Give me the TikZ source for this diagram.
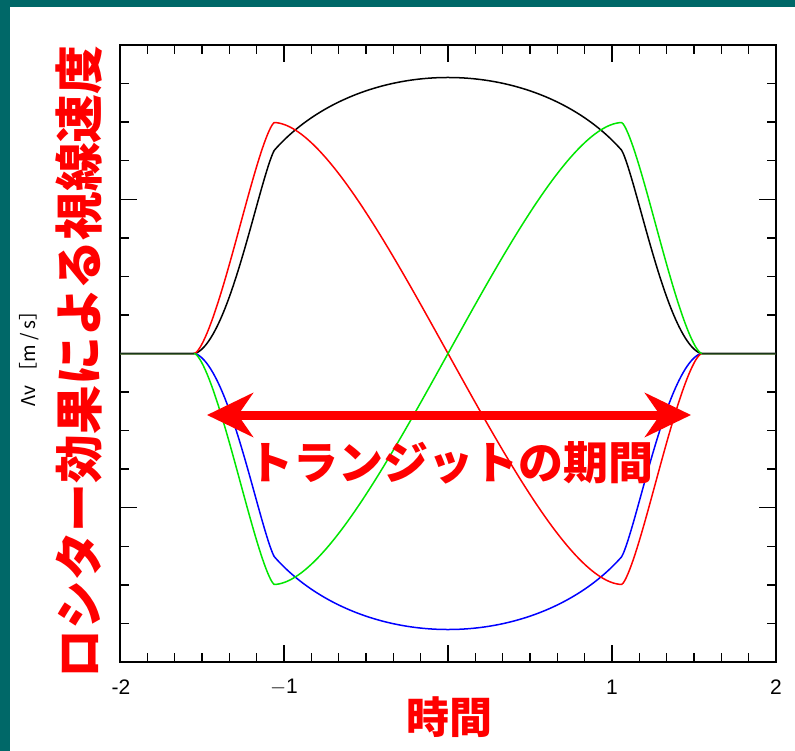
\documentclass[tikz,border=0pt]{standalone}
\usepackage{fontspec}
\usetikzlibrary{arrows.meta}
\newfontfamily\cjk{Noto Sans CJK JP}
\newfontfamily\tickf{Liberation Sans}
\definecolor{tealbg}{RGB}{0,104,104}
\definecolor{cred}{RGB}{255,0,0}
\definecolor{cgreen}{RGB}{0,230,0}
\definecolor{cblue}{RGB}{0,0,255}
\definecolor{cflat}{RGB}{25,55,25}
\begin{document}
\begin{tikzpicture}[x=1pt,y=-1pt,
  declare function={
    ldI(\x)=1-0.632*(1-sqrt(max(0,1-(\x/1.303)*(\x/1.303))));
    tpar(\x)=max(0,min(1,(1.546-abs(\x))/0.486));
    thang(\x)=2*acos(1-2*tpar(\x));
    alf(\x)=(thang(\x)*pi/180-sin(thang(\x)))/(2*pi);
    blkf(\x)=ifthenelse(abs(\x)<1.0601,276*ldI(\x),203*alf(\x)*(0.4+0.6*tpar(\x)));
    redf(\x)=ifthenelse(abs(\x)<1.0601,-386*\x/1.303*ldI(\x),ifthenelse(\x<0,1,-1)*231*alf(\x)*(0.85+0.15*tpar(\x)));
  },
  curve/.style={line width=1.5pt,line join=round},
  tick/.style={line width=1.4pt},
  jp/.style={text=cred,inner sep=0pt},
  ticklab/.style={font=\tickf\fontsize{21}{21}\selectfont,inner sep=0pt},
  bigarrow/.style={draw=cred,line width=9pt,
    {Stealth[length=46pt,width=44pt,inset=15pt]}-{Stealth[length=46pt,width=44pt,inset=15pt]}}
]
\useasboundingbox (0,0) rectangle (795,751);
\fill[white] (0,0) rectangle (795,751);
\fill[tealbg] (0,0) rectangle (795,7);
\fill[tealbg] (0,0) rectangle (10,751);

% axis box
\draw[line width=2pt] (120,45) rectangle (776,662);
\foreach \k in {1,...,23}{
  \pgfmathsetmacro\xx{120+\k*164/6}
  \pgfmathsetmacro\ll{ifthenelse(mod(\k,6)==0,17,9)}
  \draw[tick] (\xx,45) -- ++(0,\ll);
  \draw[tick] (\xx,662) -- ++(0,-\ll);
}
\foreach \j in {1,...,15}{
  \pgfmathsetmacro\yy{45+\j*617/16}
  \pgfmathsetmacro\ll{ifthenelse(mod(\j,4)==0,17,9)}
  \draw[tick] (120,\yy) -- ++(\ll,0);
  \draw[tick] (776,\yy) -- ++(-\ll,0);
}

% curves
\begin{scope}[shift={(448,353.5)},x=164pt,y=1pt]
  \draw[curve,black] plot[domain=-2:2,samples=401] (\x,{blkf(\x)});
  \draw[curve,cblue] plot[domain=-2:2,samples=401] (\x,{-blkf(\x)});
  \draw[curve,cred] plot[domain=-2:2,samples=401] (\x,{redf(\x)});
  \draw[curve,cgreen] plot[domain=-2:2,samples=401] (\x,{-redf(\x)});
  \draw[curve,cflat] (-2,0) -- (-1.546,0);
  \draw[curve,cflat] (1.546,0) -- (2,0);
\end{scope}

% tick labels
\node[ticklab] (tm2) at (121,687) {-2};
\node[ticklab] (tm1) at (284,687) {$-$1};
\node[ticklab] (tp1) at (612,687) {1};
\node[ticklab] (tp2) at (776,687) {2};

% transit arrow
\coordinate (arrL) at (207,415);
\coordinate (arrR) at (691,415);
\draw[bigarrow] (arrL) -- (arrR);

% texts
\node[jp,font=\cjk\bfseries\fontsize{45}{45}\selectfont] (transit) at (451,463) {トランジットの期間};
\node[jp,font=\cjk\bfseries\fontsize{43}{43}\selectfont] (time) at (449,717) {時間};
\node[jp,rotate=90,font=\cjk\bfseries\fontsize{48.8}{48.8}\selectfont] (vlab) at (79,362) {ロシター効果による視線速度};
\node[rotate=90,inner sep=0pt,font=\cjk\fontsize{19}{19}\selectfont] (dv) at (29,354) {Λv ［m / s］};
\end{tikzpicture}
\end{document}
